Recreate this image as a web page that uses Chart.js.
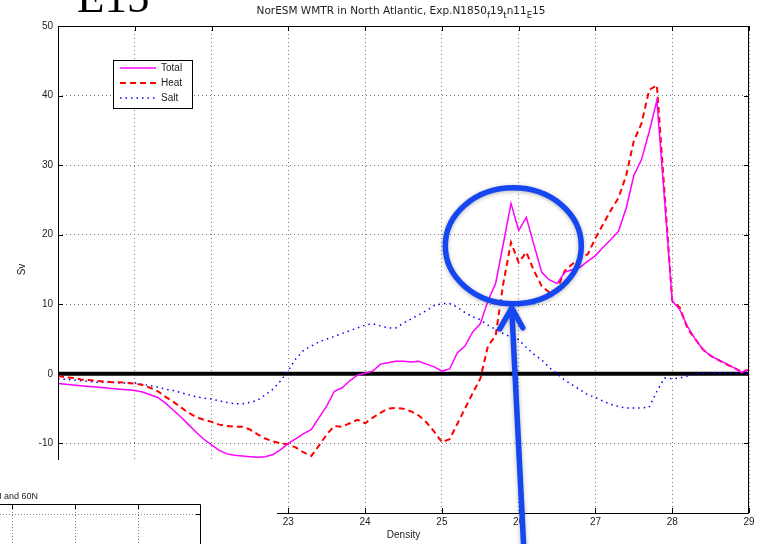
<!DOCTYPE html>
<html>
<head>
<meta charset="utf-8">
<script src="https://cdn.jsdelivr.net/npm/chart.js@4.4.0/dist/chart.umd.min.js"></script>
<style>
  html, body { margin: 0; padding: 0; background: #fff; }
</style>
</head>
<body>
<canvas id="myChart" width="759" height="544"></canvas>
<script>
let density = [
  20.0, 20.1, 20.2, 20.3, 20.4, 20.5, 20.6, 20.7, 20.8, 20.9,
  21.0, 21.1, 21.2, 21.3, 21.4, 21.5, 21.6, 21.7, 21.8, 21.9,
  22.0, 22.1, 22.2, 22.3, 22.4, 22.5, 22.6, 22.7, 22.8, 22.9,
  23.0, 23.1, 23.2, 23.3, 23.4, 23.5, 23.6, 23.7, 23.8, 23.9,
  24.0, 24.1, 24.2, 24.3, 24.4, 24.5, 24.6, 24.7, 24.8, 24.9,
  25.0, 25.1, 25.2, 25.3, 25.4, 25.5, 25.6, 25.7, 25.8, 25.9,
  26.0, 26.1, 26.2, 26.3, 26.4, 26.5, 26.6, 26.7, 26.8, 26.9,
  27.0, 27.1, 27.2, 27.3, 27.4, 27.5, 27.6, 27.7, 27.8, 27.9,
  28.0, 28.1, 28.2, 28.3, 28.4, 28.5, 28.6, 28.7, 28.8, 28.9,
  29.0
];
let total = [
  -1.4, -1.5, -1.6, -1.7, -1.8, -1.9, -2.0, -2.1, -2.2, -2.3,
  -2.4, -2.6, -3.0, -3.4, -4.2, -5.2, -6.2, -7.3, -8.4, -9.4,
  -10.2, -11.0, -11.5, -11.7, -11.8, -11.9, -12.0, -11.9, -11.6, -10.9,
  -10.0, -9.3, -8.6, -8.0, -6.3, -4.6, -2.5, -2.0, -1.0, -0.2,
  0.1, 0.4, 1.4, 1.6, 1.8, 1.8, 1.7, 1.8, 1.4, 1.0,
  0.4, 0.7, 3.0, 4.0, 6.0, 7.2, 10.5, 13.0, 18.7, 24.5,
  20.6, 22.5, 18.5, 14.6, 13.5, 13.0, 14.6, 15.0, 15.3, 16.2,
  17.0, 18.2, 19.3, 20.5, 23.8, 28.5, 30.8, 34.8, 39.3, 25.0,
  10.5, 9.2, 6.8, 5.0, 3.5, 2.6, 2.0, 1.5, 0.9, 0.2,
  0.6
];
let heat = [
  -0.3, -0.5, -0.6, -0.8, -0.9, -1.0, -1.1, -1.2, -1.2, -1.3,
  -1.4, -1.6, -2.0, -2.5, -3.3, -4.0, -4.8, -5.6, -6.2, -6.6,
  -6.9, -7.3, -7.5, -7.6, -7.6, -8.0, -8.7, -9.3, -9.7, -10.0,
  -10.1, -10.6, -11.3, -11.8, -10.3, -8.7, -7.5, -7.6, -7.1, -6.6,
  -7.1, -6.3, -5.6, -5.0, -4.9, -5.0, -5.4, -6.0, -7.0, -8.3,
  -9.8, -9.4, -7.2, -5.0, -2.8, -0.7, 4.0, 5.5, 13.0, 18.9,
  16.0, 17.5, 14.8, 12.6, 11.7, 12.2, 14.8, 15.8, 16.6, 17.2,
  19.5, 21.5, 23.5, 25.3, 28.5, 33.5, 36.0, 40.8, 41.5, 26.0,
  10.5, 9.5, 6.5, 5.0, 3.5, 2.6, 2.0, 1.4, 0.9, 0.3,
  0.6
];
let salt = [
  -0.7, -0.8, -0.9, -1.0, -1.1, -1.2, -1.2, -1.2, -1.3, -1.3,
  -1.3, -1.5, -1.7, -1.9, -2.2, -2.4, -2.7, -3.0, -3.3, -3.5,
  -3.6, -3.9, -4.1, -4.3, -4.3, -4.1, -3.8, -3.0, -2.2, -1.0,
  0.5, 2.2, 3.4, 4.0, 4.6, 5.0, 5.4, 5.8, 6.2, 6.6,
  7.0, 7.2, 6.9, 6.6, 6.6, 7.3, 7.9, 8.5, 9.1, 9.8,
  10.1, 10.1, 9.6, 8.8, 8.2, 7.8, 7.0, 6.4, 5.8, 5.3,
  4.9, 3.8, 2.8, 2.0, 0.9, 0.0, -0.9, -1.6, -2.3, -3.0,
  -3.4, -3.9, -4.4, -4.7, -4.9, -4.9, -4.9, -4.8, -2.5, -0.6,
  -0.7, -0.6, -0.3, 0.0, 0.1, 0.1, 0.1, 0.1, 0.1, 0.1,
  0.1
];
let seriesNames = ['Total', 'Heat', 'Salt'];
let seriesColors = ['#ff00ff', '#ff0000', '#0000ff'];

const FONT = '"Liberation Sans", Arial, sans-serif';
const TITLE_FONT = '"DejaVu Sans", "Liberation Sans", sans-serif';

function toPoints(ys) {
  return density.map((d, i) => ({ x: d, y: ys[i] }));
}

const extras = {
  id: 'extras',
  beforeDatasetsDraw(chart) {
    const { ctx, chartArea: a, scales: { y } } = chart;
    const y0 = y.getPixelForValue(0);
    ctx.save();
    ctx.strokeStyle = '#000';
    ctx.lineWidth = 4;
    ctx.beginPath();
    ctx.moveTo(a.left, y0);
    ctx.lineTo(a.right, y0);
    ctx.stroke();
    ctx.restore();
  },
  afterDraw(chart) {
    const { ctx, chartArea: a, scales: { x, y } } = chart;
    ctx.save();

    // axes box with inward ticks
    ctx.strokeStyle = '#000';
    ctx.lineWidth = 1;
    ctx.strokeRect(a.left + 0.5, a.top + 0.5, a.right - a.left - 1, a.bottom - a.top);
    ctx.beginPath();
    x.ticks.forEach(t => {
      const px = Math.round(x.getPixelForValue(t.value)) + 0.5;
      ctx.moveTo(px, a.top); ctx.lineTo(px, a.top + 5);
      ctx.moveTo(px, a.bottom); ctx.lineTo(px, a.bottom - 5);
    });
    y.ticks.forEach(t => {
      const py = Math.round(y.getPixelForValue(t.value)) + 0.5;
      ctx.moveTo(a.left, py); ctx.lineTo(a.left + 5, py);
      ctx.moveTo(a.right, py); ctx.lineTo(a.right - 5, py);
    });
    ctx.stroke();

    // legend
    const lx = 113.5, ly = 60.5;
    ctx.fillStyle = '#fff';
    ctx.fillRect(lx, ly, 79, 48);
    ctx.strokeStyle = '#000';
    ctx.strokeRect(lx, ly, 79, 48);
    ctx.font = '10px ' + FONT;
    ctx.textBaseline = 'middle';
    chart.data.datasets.forEach((ds, i) => {
      const yy = 68 + i * 15;
      ctx.strokeStyle = ds.borderColor;
      ctx.lineWidth = ds.borderWidth;
      ctx.setLineDash(ds.borderDash || []);
      ctx.beginPath();
      ctx.moveTo(120, yy); ctx.lineTo(156, yy);
      ctx.stroke();
      ctx.setLineDash([]);
      ctx.fillStyle = '#222';
      ctx.fillText(ds.label, 161, yy + 0.5);
    });

    // title with subscripts
    const parts = [
      ['NorESM WMTR in North Atlantic, Exp.N1850', false],
      ['f', true], ['19', false], ['t', true], ['n11', false], ['E', true], ['15', false]
    ];
    const fontFor = sub => (sub ? '8.5px ' : '10.5px ') + TITLE_FONT;
    let w = 0;
    parts.forEach(p => {
      ctx.font = fontFor(p[1]);
      w += ctx.measureText(p[0]).width;
    });
    let tx = 401 - w / 2;
    ctx.textBaseline = 'alphabetic';
    ctx.fillStyle = '#222';
    parts.forEach(p => {
      ctx.font = fontFor(p[1]);
      ctx.fillText(p[0], tx, p[1] ? 17.5 : 14);
      tx += ctx.measureText(p[0]).width;
    });

    // big label
    ctx.fillStyle = '#000';
    ctx.font = '45px "Liberation Serif", "Times New Roman", serif';
    ctx.fillText('E15', 77, 12);

    // pasted inset covering the lower-left corner
    ctx.fillStyle = '#fff';
    ctx.fillRect(0, 460, 277, 84);
    ctx.fillStyle = '#222';
    ctx.font = '9px ' + FONT;
    ctx.textAlign = 'right';
    ctx.fillText('0N and 60N', 38, 499);
    ctx.textAlign = 'left';
    ctx.strokeStyle = '#000';
    ctx.lineWidth = 1;
    ctx.beginPath();
    ctx.moveTo(0, 504.5); ctx.lineTo(200.5, 504.5); ctx.lineTo(200.5, 544);
    [12.5, 75.5, 138.5].forEach(px => { ctx.moveTo(px, 504); ctx.lineTo(px, 509); });
    ctx.moveTo(196, 514.5); ctx.lineTo(200, 514.5);
    ctx.stroke();
    ctx.strokeStyle = '#888';
    ctx.setLineDash([1, 2]);
    ctx.beginPath();
    [12.5, 75.5, 138.5].forEach(px => { ctx.moveTo(px, 509); ctx.lineTo(px, 544); });
    ctx.moveTo(0, 514.5); ctx.lineTo(196, 514.5);
    ctx.stroke();
    ctx.setLineDash([]);

    // hand-drawn highlight: ellipse and arrow
    const cx = x.getPixelForValue(25.93), cy = y.getPixelForValue(18.4);
    const tipX = x.getPixelForValue(25.91), tipY = y.getPixelForValue(9.5);
    ctx.strokeStyle = '#1446f2';
    ctx.lineWidth = 5.5;
    ctx.lineCap = 'round';
    ctx.lineJoin = 'round';
    ctx.shadowColor = 'rgba(0,0,0,0.3)';
    ctx.shadowBlur = 4;
    ctx.shadowOffsetY = 1;
    ctx.beginPath();
    ctx.ellipse(cx, cy, 68, 58, 0, 0, Math.PI * 2);
    ctx.stroke();
    ctx.beginPath();
    ctx.moveTo(tipX + 12, 548);
    ctx.lineTo(tipX, tipY + 1);
    ctx.moveTo(tipX - 12, tipY + 21);
    ctx.lineTo(tipX, tipY);
    ctx.lineTo(tipX + 11, tipY + 20);
    ctx.stroke();

    ctx.restore();
  }
};

let ctx = document.getElementById('myChart').getContext('2d');
let chart = new Chart(ctx, {
  type: 'line',
  data: {
    datasets: [
      {
        label: seriesNames[0],
        data: toPoints(total),
        borderColor: seriesColors[0],
        borderWidth: 1.5,
        pointRadius: 0,
        tension: 0
      },
      {
        label: seriesNames[1],
        data: toPoints(heat),
        borderColor: seriesColors[1],
        borderWidth: 2,
        borderDash: [6, 4],
        pointRadius: 0,
        tension: 0
      },
      {
        label: seriesNames[2],
        data: toPoints(salt),
        borderColor: seriesColors[2],
        borderWidth: 1.5,
        borderDash: [1.5, 4],
        pointRadius: 0,
        tension: 0
      }
    ]
  },
  options: {
    responsive: false,
    animation: false,
    layout: { padding: { left: 0, top: 26, right: 10, bottom: 0 } },
    plugins: {
      legend: { display: false },
      title: { display: false },
      tooltip: { enabled: false }
    },
    scales: {
      x: {
        type: 'linear',
        min: 20,
        max: 29,
        afterFit(s) { s.height = 31; },
        ticks: { stepSize: 1, padding: 3, maxRotation: 0, color: '#222', font: { size: 10, family: FONT } },
        grid: { color: '#777', drawTicks: false },
        border: { display: false, dash: [1, 3] },
        title: { display: true, text: 'Density', color: '#222', font: { size: 10, family: FONT }, padding: { top: 0, bottom: 3 } }
      },
      y: {
        min: -20,
        max: 50,
        afterFit(s) { s.width = 58; },
        ticks: { stepSize: 10, padding: 5, color: '#222', font: { size: 10, family: FONT } },
        grid: { color: '#777', drawTicks: false },
        border: { display: false, dash: [1, 3] },
        title: { display: true, text: 'Sv', color: '#222', font: { size: 10, family: FONT }, padding: { top: 16, bottom: 0 } }
      }
    }
  },
  plugins: [extras]
});
</script>
</body>
</html>
